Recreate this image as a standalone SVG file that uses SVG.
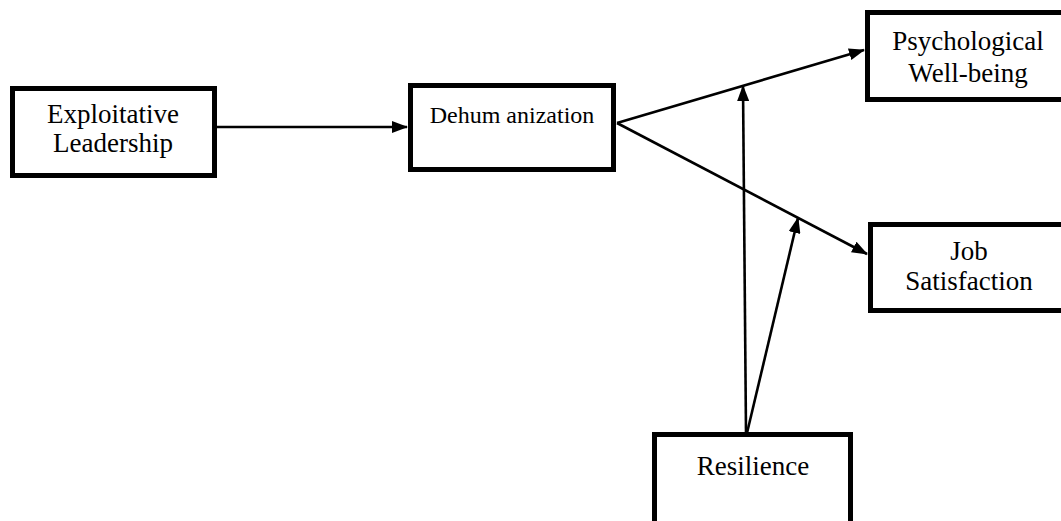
<svg xmlns="http://www.w3.org/2000/svg" width="1061" height="521" viewBox="0 0 1061 521">
<style>
.box{fill:#fff;stroke:#000;stroke-width:5}
.t{font-family:"Liberation Serif","Times New Roman",serif;font-size:27px;fill:#000;text-anchor:middle}
.c{stroke:#000;stroke-width:2.6;fill:none}
</style>
<defs>
<marker id="ah" markerUnits="userSpaceOnUse" markerWidth="16" markerHeight="12" refX="15" refY="6" orient="auto">
<path d="M0,0 L16,6 L0,12 z" fill="#000"/>
</marker>
</defs>
<rect width="1061" height="521" fill="#fff"/>
<g id="connectors">
<line class="c" x1="217" y1="127" x2="407" y2="127" marker-end="url(#ah)"/>
<line class="c" x1="617" y1="123" x2="864" y2="50" marker-end="url(#ah)"/>
<line class="c" x1="617" y1="123" x2="867" y2="254" marker-end="url(#ah)"/>
<line class="c" x1="746" y1="433" x2="743" y2="86" marker-end="url(#ah)"/>
<line class="c" x1="747" y1="433" x2="798" y2="218" marker-end="url(#ah)"/>
</g>
<g id="exploitative-leadership">
<rect class="box" x="12.5" y="88.5" width="202" height="87"/>
<text class="t" x="113" y="123">Exploitative</text>
<text class="t" x="113" y="152">Leadership</text>
</g>
<g id="dehumanization">
<rect class="box" x="410.5" y="85.5" width="203" height="84"/>
<text class="t" x="512" y="123" style="font-size:24px">Dehum anization</text>
</g>
<g id="psychological-well-being">
<rect class="box" x="867.5" y="12.5" width="220" height="87"/>
<text class="t" x="968" y="50">Psychological</text>
<text class="t" x="968" y="82">Well-being</text>
</g>
<g id="job-satisfaction">
<rect class="box" x="870.5" y="224.5" width="220" height="86"/>
<text class="t" x="969" y="260">Job</text>
<text class="t" x="969" y="290">Satisfaction</text>
</g>
<g id="resilience">
<rect class="box" x="654.5" y="434.5" width="196" height="120"/>
<text class="t" x="753" y="475">Resilience</text>
</g>
</svg>
